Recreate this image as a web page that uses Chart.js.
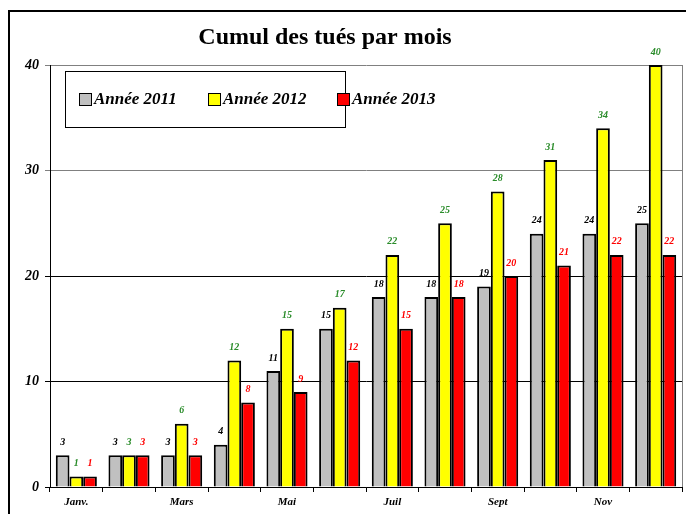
<!DOCTYPE html>
<html>
<head>
<meta charset="utf-8">
<style>
  html, body { margin: 0; padding: 0; background: #fff; }
  #wrap { width: 686px; height: 514px; position: relative; }
</style>
<script src="https://cdn.jsdelivr.net/npm/chart.js@4.4.1/dist/chart.umd.min.js"></script>
</head>
<body>
<div id="wrap"><canvas id="myChart" width="686" height="514"></canvas></div>
<script>
// Data
const months = ['Janv.', '', 'Mars', '', 'Mai', '', 'Juil', '', 'Sept', '', 'Nov', ''];
const seriesNames = ['Année 2011', 'Année 2012', 'Année 2013'];
const values2011 = [3, 3, 3, 4, 11, 15, 18, 18, 19, 24, 24, 25];
const values2012 = [1, 3, 6, 12, 15, 17, 22, 25, 28, 31, 34, 40];
const values2013 = [1, 3, 3, 8, 9, 12, 15, 18, 20, 21, 22, 22];
const yTicks = [0, 10, 20, 30, 40];

const barColors = ['#c0c0c0', '#ffff00', '#ff0000'];
const labelColors = ['#000000', '#2a8c2a', '#ff0000'];
const serif = '"Liberation Serif", "Times New Roman", serif';

// title, frame and legend box drawn on top of the chart
const decorPlugin = {
    id: 'decor',
    afterDraw(chart) {
        const ctx = chart.ctx;
        ctx.save();
        // outer frame (runs off the right and bottom of the picture)
        ctx.strokeStyle = '#000';
        ctx.lineWidth = 2;
        ctx.strokeRect(9, 11, 700, 530);

        // title
        ctx.fillStyle = '#000';
        ctx.font = 'bold 24px ' + serif;
        ctx.textAlign = 'center';
        ctx.textBaseline = 'middle';
        ctx.fillText('Cumul des tués par mois', 325, 38);

        // legend box
        ctx.fillStyle = '#fff';
        ctx.fillRect(65, 71, 280, 56);
        ctx.strokeStyle = '#000';
        ctx.lineWidth = 1;
        ctx.strokeRect(65.5, 71.5, 280, 56);
        ctx.font = 'italic bold 17px ' + serif;
        ctx.textAlign = 'left';
        const legendX = [79, 208, 337];
        chart.data.datasets.forEach((ds, i) => {
            const x = legendX[i];
            ctx.fillStyle = ds.backgroundColor;
            ctx.fillRect(x, 93, 12, 12);
            ctx.strokeStyle = '#000';
            ctx.strokeRect(x + 0.5, 93.5, 12, 12);
            ctx.fillStyle = '#000';
            ctx.fillText(ds.label, x + 15, 100);
        });
        ctx.restore();
    }
};

// value labels above every bar
const valueLabels = {
    id: 'valueLabels',
    afterDatasetsDraw(chart) {
        const ctx = chart.ctx;
        ctx.save();
        ctx.font = 'italic bold 10px ' + serif;
        ctx.textAlign = 'center';
        ctx.textBaseline = 'middle';
        chart.data.datasets.forEach((ds, i) => {
            const meta = chart.getDatasetMeta(i);
            ctx.fillStyle = labelColors[i];
            meta.data.forEach((bar, j) => {
                ctx.fillText(ds.data[j], bar.x, bar.y - 13);
            });
        });
        ctx.restore();
    }
};

const ctx = document.getElementById('myChart').getContext('2d');
new Chart(ctx, {
    type: 'bar',
    data: {
        labels: months,
        datasets: [values2011, values2012, values2013].map((d, i) => ({
            label: seriesNames[i],
            data: d,
            backgroundColor: barColors[i],
            borderColor: '#000',
            borderWidth: 2,
            borderSkipped: 'bottom',
            barPercentage: 1,
            categoryPercentage: 0.78
        }))
    },
    options: {
        responsive: false,
        animation: false,
        layout: { padding: { left: 0, top: 65, right: 4, bottom: 0 } },
        plugins: {
            legend: { display: false },
            title: { display: false },
            tooltip: { enabled: false }
        },
        scales: {
            x: {
                grid: {
                    offset: true,
                    drawOnChartArea: false,
                    drawTicks: true,
                    tickLength: 5,
                    color: '#000'
                },
                border: { color: '#000', width: 1 },
                ticks: {
                    autoSkip: false,
                    maxRotation: 0,
                    color: '#000',
                    font: { family: serif, size: 11, style: 'italic', weight: 'bold' },
                    padding: 4
                },
                afterFit(scale) { scale.height = 27; }
            },
            y: {
                min: 0,
                max: 40,
                afterBuildTicks(scale) { scale.ticks = yTicks.map(v => ({ value: v })); },
                grid: {
                    color: c => (c.tick && c.tick.value >= 30) ? '#808080' : '#000',
                    lineWidth: 1,
                    tickLength: 5
                },
                border: { color: '#000', width: 1 },
                ticks: {
                    color: '#000',
                    font: { family: serif, size: 14, style: 'italic', weight: 'bold' },
                    padding: 6
                },
                afterFit(scale) { scale.width = 50; }
            }
        }
    },
    plugins: [valueLabels, decorPlugin, {
        id: 'rightEdge',
        afterDraw(chart) {
            const a = chart.chartArea;
            chart.ctx.save();
            chart.ctx.strokeStyle = '#808080';
            chart.ctx.lineWidth = 1;
            chart.ctx.beginPath();
            chart.ctx.moveTo(Math.round(a.right) + 0.5, a.top);
            chart.ctx.lineTo(Math.round(a.right) + 0.5, a.bottom);
            chart.ctx.stroke();
            chart.ctx.restore();
        }
    }]
});
</script>
</body>
</html>
